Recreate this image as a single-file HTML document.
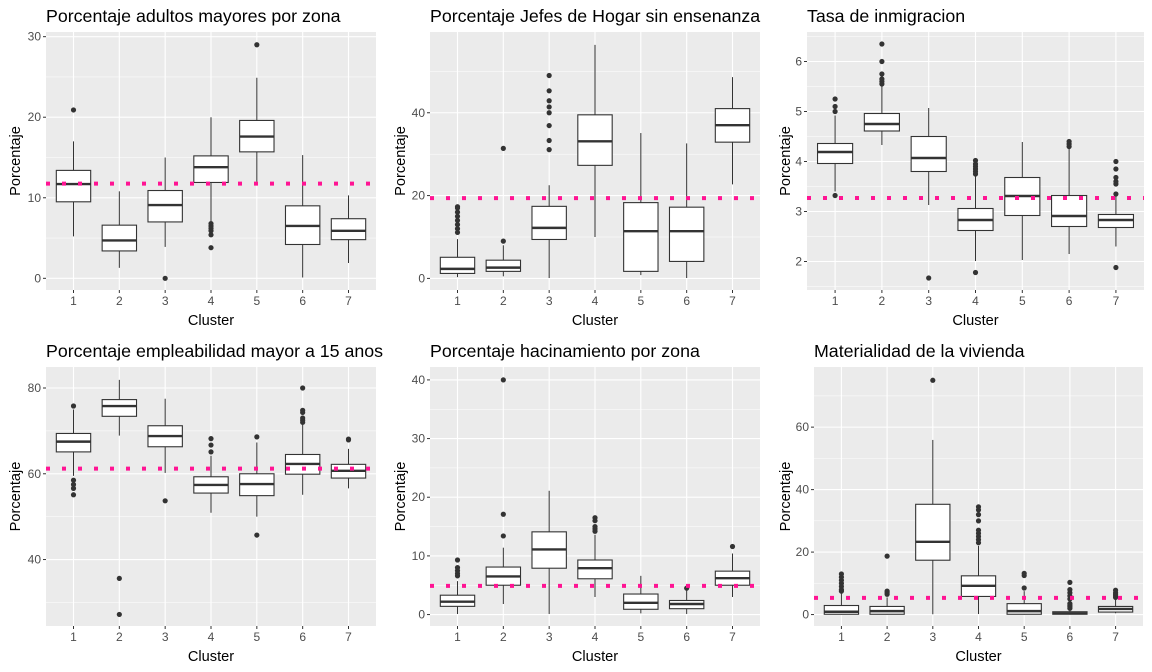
<!DOCTYPE html>
<html><head><meta charset="utf-8"><style>
html,body{margin:0;padding:0;background:#fff;}
svg{display:block;font-family:"Liberation Sans",Arial,sans-serif;}
</style></head><body>
<svg id="c" width="1152" height="672" viewBox="0 0 1152 672"></svg>
<script>
const categories = ["1","2","3","4","5","6","7"];
const titles = ["Porcentaje adultos mayores por zona","Porcentaje Jefes de Hogar sin ensenanza","Tasa de inmigracion","Porcentaje empleabilidad mayor a 15 anos","Porcentaje hacinamiento por zona","Materialidad de la vivienda"];
const yTicks = [[0,10,20,30],[0,20,40],[2,3,4,5,6],[40,60,80],[0,10,20,30,40],[0,20,40,60]];
const refValues = [11.75,19.4,3.27,61.2,4.9,5.35];
// per panel: [whiskerLow, q1, median, q3, whiskerHigh] for each cluster
const stats1 = [[5.2,9.5,11.7,13.4,17.0],[1.3,3.4,4.7,6.6,10.8],[3.9,7.0,9.1,10.9,15.0],[7.0,11.9,13.8,15.2,20.0],[12.0,15.7,17.6,19.6,24.9],[0.1,4.2,6.5,9.0,15.3],[1.9,4.8,5.9,7.4,10.3]];
const stats2 = [[0.3,1.2,2.3,5.1,9.5],[0.5,1.7,2.6,4.4,8.0],[0.1,9.4,12.2,17.4,22.5],[10,27.3,33.1,39.5,56.4],[0.8,1.7,11.4,18.3,35.1],[0.1,4.1,11.4,17.2,32.6],[22.7,32.9,37.0,41.0,48.6]];
const stats3 = [[3.4,3.96,4.19,4.36,4.92],[4.33,4.61,4.75,4.96,5.5],[3.13,3.8,4.07,4.5,5.07],[2.01,2.62,2.83,3.06,3.72],[2.03,2.92,3.31,3.68,4.39],[2.15,2.7,2.91,3.32,4.25],[2.3,2.68,2.83,2.94,3.3]];
const stats4 = [[59.5,65.1,67.5,69.4,75.0],[68.9,73.4,75.8,77.3,81.9],[60.2,66.3,68.8,71.2,77.5],[50.9,55.5,57.4,59.3,64.2],[50.0,54.9,57.6,60.0,67.3],[55.1,59.9,62.3,64.5,71.5],[56.6,59.0,60.7,62.2,65.8]];
const stats5 = [[0.1,1.4,2.2,3.3,5.7],[1.8,5.0,6.5,8.1,11.4],[0.1,7.9,11.1,14.1,21.1],[3.0,6.1,7.9,9.3,13.6],[0.2,0.9,2.0,3.5,6.6],[0.1,1.0,1.8,2.4,4.2],[3.0,5.0,6.2,7.4,10.4]];
const stats6 = [[0,0.1,0.9,2.9,7],[0,0.1,1.1,2.6,5.5],[0.1,17.4,23.3,35.3,55.9],[0.2,5.8,9.2,12.4,22],[0,0.1,1.1,3.5,7.5],[0,0.1,0.4,0.9,1.8],[0.4,0.8,1.8,2.6,5]];
const out1 = [[20.9],[],[0],[6.8,6.5,6.2,5.9,5.4,3.8],[29.0],[],[]];
const out2 = [[11.1,12,13,14,15,16,17,17.3],[9.0,31.4],[31.1,33.3,36.9,40,41.4,42.9,45.3,49.0],[],[],[],[]];
const out3 = [[3.32,5.0,5.1,5.25],[5.55,5.6,5.65,5.75,6.0,6.35],[1.67],[3.75,3.8,3.85,3.9,3.95,4.02,1.78],[],[4.3,4.35,4.4],[3.35,3.55,3.6,3.68,3.85,4.0,1.88]];
const out4 = [[58.5,57.5,56.6,55.1,75.8],[35.6,27.2],[53.7],[65.1,66.7,68.2],[68.6,45.7],[72,72.5,73,74.3,74.8,80],[67.9,68.1]];
const out5 = [[6.6,7,7.5,8,9.3],[13.4,17.1,40],[],[14.2,14.6,15,16,16.5],[],[4.5],[11.6]];
const out6 = [[7.5,8,9,10,11,12,13],[6.5,7,7.5,18.7],[75],[23,24,25,26,27,30,32,33.5,34.5],[8.5,12.5,13.2],[2,2.5,3,3.5,5,6,7,8,10.3],[5.5,6,6.5,7,7.8]];
const statsAll=[stats1,stats2,stats3,stats4,stats5,stats6];
const outAll=[out1,out2,out3,out4,out5,out6];
const yDomains=[[-1.45,30.58],[-2.8,59.5],[1.43,6.59],[24.5,84.9],[-1.95,42.2],[-3.66,79.25]];
const rects=[[46,32,376,290],[430,32,760,290],[807,32,1144,290],[46,367,376,626],[430,367,760,626],[814,367,1143,626]];
const ns="http://www.w3.org/2000/svg";
const svg=document.getElementById('c');
function mk(tag,attrs,parent){const e=document.createElementNS(ns,tag);for(const k in attrs)e.setAttribute(k,attrs[k]);(parent||svg).appendChild(e);return e;}
for(let p=0;p<6;p++){
  const [x0,y0,x1,y1]=rects[p];const [d0,d1]=yDomains[p];
  const g=mk('g',{});
  
  
  const ys=v=>y1-(v-d0)/(d1-d0)*(y1-y0);
  const xs=i=>x0+(i+1-0.4)/7.2*(x1-x0);
  const bg=mk('rect',{x:x0,y:y0,width:x1-x0,height:y1-y0,fill:'#ebebeb'},g);
  
  
  const tk=yTicks[p];const step=tk[1]-tk[0];
  for(let v=tk[0]-step/2;v<=d1;v+=step/2){ if(v<d0)continue;
    const major=tk.some(t=>Math.abs(t-v)<1e-9);
    mk('line',{x1:x0,x2:x1,y1:ys(v),y2:ys(v),stroke:'#fff','stroke-width':major?1.1:0.5},g);}
  for(let i=0;i<7;i++){mk('line',{x1:xs(i),x2:xs(i),y1:y0,y2:y1,stroke:'#fff','stroke-width':1.1},g);}
  tk.forEach(v=>{
    mk('line',{x1:x0-3,x2:x0,y1:ys(v),y2:ys(v),stroke:'#333','stroke-width':1},g);
    const t=mk('text',{x:x0-5,y:ys(v)+4,'text-anchor':'end','font-size':12,fill:'#4d4d4d'},g);t.textContent=v;
    
    
  });
  categories.forEach((c,i)=>{
    mk('line',{x1:xs(i),x2:xs(i),y1:y1,y2:y1+3,stroke:'#333','stroke-width':1},g);
    const t=mk('text',{x:xs(i),y:y1+15,'text-anchor':'middle','font-size':12,fill:'#4d4d4d'},g);t.textContent=c;
    
    
  });
  const st=statsAll[p],ou=outAll[p];const bw=0.75*(x1-x0)/7.2;
  st.forEach((s,i)=>{
    const cx=xs(i);
    const b=mk('g',{},g);
    
    
    mk('line',{x1:cx,x2:cx,y1:ys(s[0]),y2:ys(s[1]),stroke:'#333','stroke-width':1},b);
    mk('line',{x1:cx,x2:cx,y1:ys(s[3]),y2:ys(s[4]),stroke:'#333','stroke-width':1},b);
    mk('rect',{x:cx-bw/2,y:ys(s[3]),width:bw,height:Math.max(0.5,ys(s[1])-ys(s[3])),fill:'#fff',stroke:'#333','stroke-width':1.1},b);
    mk('line',{x1:cx-bw/2,x2:cx+bw/2,y1:ys(s[2]),y2:ys(s[2]),stroke:'#333','stroke-width':2.4},b);
    ou[i].forEach(v=>{const o=mk('circle',{cx:cx,cy:ys(v),r:2.6,fill:'#333'},b);
      
      });
  });
  const rl=mk('line',{x1:x0,x2:x1,y1:ys(refValues[p]),y2:ys(refValues[p]),stroke:'#ff1493','stroke-width':4,'stroke-dasharray':'4 12'},g);
  
  
  const tt=mk('text',{x:x0,y:y0-10,'font-size':17.8,fill:'#000'},g);tt.textContent=titles[p];
  
  
  const xl=mk('text',{x:(x0+x1)/2,y:y1+35,'text-anchor':'middle','font-size':14.6,fill:'#000'},g);xl.textContent='Cluster';
  
  
  const lx=[0,385,770][p%3]+20;const ly=(y0+y1)/2;
  const yl=mk('text',{x:lx,y:ly,'text-anchor':'middle','font-size':14.6,fill:'#000',transform:'rotate(-90 '+lx+' '+ly+')'},g);yl.textContent='Porcentaje';
  
  
}
</script>
</body></html>
